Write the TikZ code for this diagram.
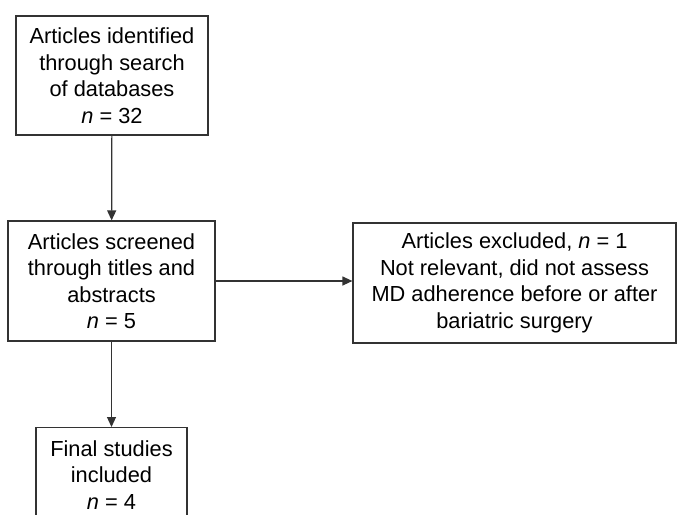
\documentclass[tikz,border=0pt]{standalone}
\usepackage{fontspec}
\setmainfont{Liberation Sans}
\usetikzlibrary{arrows.meta}
\tikzset{box/.style={draw=black!80, line width=1.2pt, align=center,
   font=\fontsize{21.8pt}{26.5pt}\selectfont},
 flow/.style={draw=black!80, line width=1.2pt, -{Triangle[length=10pt,width=9pt]}},
 }

\begin{document}
\begin{tikzpicture}[x=1pt,y=-1pt]
        \useasboundingbox (0,0) rectangle (679,514);
        \node[box, minimum width=192pt, minimum height=119pt] (ident) at (112,75.5)
            {Articles identified\\through search\\of databases\\\textit{n} = 32};
        \node[box, minimum width=207pt, minimum height=120pt] (screen) at (111.5,281)
            {Articles screened\\through titles and\\abstracts\\\textit{n} = 5};
        \node[box, minimum width=323pt, minimum height=120pt] (excl) at (514.5,283)
            {Articles excluded, \textit{n} = 1\\Not relevant, did not assess\\MD adherence before or after\\bariatric surgery};
        \node[box, minimum width=151pt, inner ysep=13pt, anchor=north] (final) at (111.5,427)
            {Final studies\\included\\\textit{n} = 4};
        \draw[flow] (ident) -- (screen);
        \draw[flow] (screen.east) -- (screen.east -| excl.west);
        \draw[flow] (screen.south) -- (final.north);
    \end{tikzpicture}
\end{document}
